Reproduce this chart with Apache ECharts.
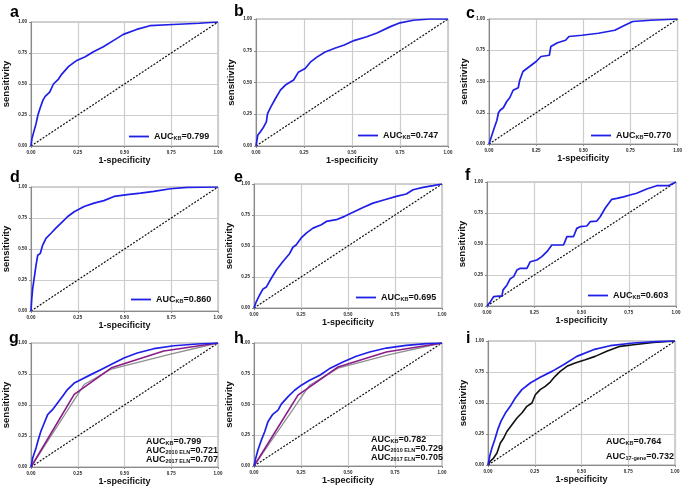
<!DOCTYPE html>
<html><head><meta charset="utf-8">
<script src="https://cdn.jsdelivr.net/npm/echarts@6/dist/echarts.min.js"></script>
<style>html,body{margin:0;padding:0;background:#fff}#c{width:685px;height:489px}</style>
</head><body><div id="c"></div>
<script>
// ---- data (1-specificity, sensitivity) ----
const aX=[0,0.005,0.014,0.027,0.037,0.05,0.064,0.076,0.10,0.12,0.147,0.165,0.20,0.245,0.29,0.334,0.387,0.44,0.494,0.565,0.636,0.76,0.90,1];
const aY=[0,0.06,0.11,0.18,0.25,0.31,0.37,0.40,0.435,0.50,0.54,0.58,0.64,0.69,0.72,0.76,0.80,0.85,0.90,0.94,0.97,0.98,0.99,1];
const bX=[0,0.009,0.022,0.04,0.054,0.06,0.078,0.10,0.127,0.153,0.196,0.22,0.256,0.283,0.317,0.36,0.41,0.46,0.51,0.577,0.63,0.70,0.75,0.82,0.906,1];
const bY=[0,0.084,0.11,0.15,0.19,0.255,0.31,0.37,0.44,0.48,0.52,0.58,0.61,0.66,0.70,0.74,0.77,0.795,0.83,0.86,0.89,0.94,0.97,0.99,1,1];
const cX=[0,0.016,0.028,0.042,0.05,0.059,0.076,0.094,0.11,0.128,0.155,0.163,0.18,0.215,0.25,0.276,0.32,0.328,0.363,0.406,0.424,0.493,0.58,0.667,0.72,0.762,0.858,1];
const cY=[0,0.074,0.13,0.19,0.25,0.27,0.29,0.34,0.37,0.43,0.45,0.51,0.58,0.62,0.66,0.70,0.71,0.78,0.81,0.83,0.86,0.87,0.886,0.91,0.95,0.98,0.99,1];
const dX=[0,0.004,0.009,0.018,0.027,0.036,0.05,0.062,0.08,0.107,0.133,0.169,0.195,0.231,0.284,0.337,0.39,0.444,0.515,0.586,0.657,0.746,0.835,1];
const dY=[0,0.10,0.18,0.276,0.37,0.45,0.465,0.53,0.586,0.627,0.668,0.72,0.76,0.80,0.843,0.87,0.89,0.924,0.938,0.95,0.965,0.986,0.997,1];
const eX=[0,0.012,0.03,0.048,0.066,0.092,0.119,0.154,0.19,0.207,0.225,0.25,0.278,0.314,0.358,0.385,0.438,0.482,0.535,0.58,0.633,0.695,0.757,0.81,0.846,0.899,0.952,1];
const eY=[0,0.05,0.105,0.154,0.17,0.24,0.307,0.375,0.44,0.49,0.51,0.563,0.604,0.644,0.671,0.698,0.712,0.739,0.779,0.811,0.846,0.873,0.90,0.919,0.954,0.973,0.987,1];
const fX=[0,0.018,0.035,0.062,0.079,0.085,0.106,0.123,0.141,0.158,0.176,0.211,0.229,0.264,0.29,0.317,0.343,0.405,0.423,0.458,0.475,0.493,0.528,0.546,0.581,0.599,0.625,0.66,0.687,0.722,0.757,0.792,0.845,0.898,0.96,0.986,1];
const fY=[0,0.035,0.075,0.08,0.08,0.13,0.17,0.22,0.237,0.29,0.304,0.304,0.357,0.371,0.398,0.438,0.492,0.492,0.56,0.56,0.626,0.64,0.645,0.68,0.685,0.72,0.788,0.86,0.868,0.88,0.895,0.909,0.944,0.97,0.97,0.99,1];
const gX=[0,0.009,0.027,0.039,0.053,0.071,0.089,0.115,0.142,0.169,0.195,0.231,0.266,0.32,0.373,0.444,0.497,0.568,0.657,0.764,0.888,1];
const gY=[0,0.073,0.153,0.22,0.288,0.355,0.422,0.462,0.516,0.57,0.624,0.677,0.704,0.745,0.785,0.839,0.879,0.919,0.954,0.978,0.992,1];
const g2010X=[0,0.231,0.43,0.71,1];
const g2010Y=[0,0.585,0.80,0.935,1];
const g2017X=[0,0.284,0.43,0.73,1];
const g2017Y=[0,0.665,0.79,0.905,1];
const hX=[0,0.009,0.021,0.039,0.057,0.074,0.10,0.128,0.145,0.18,0.216,0.252,0.296,0.35,0.40,0.473,0.544,0.615,0.704,0.81,0.917,1];
const hY=[0,0.062,0.13,0.21,0.278,0.36,0.42,0.454,0.503,0.562,0.616,0.657,0.697,0.738,0.79,0.846,0.892,0.927,0.959,0.981,0.995,1];
const h2010X=[0,0.234,0.447,0.704,1];
const h2010Y=[0,0.576,0.805,0.927,1];
const h2017X=[0,0.296,0.447,0.72,1];
const h2017Y=[0,0.657,0.795,0.905,1];
const iX=[0,0.009,0.021,0.036,0.052,0.069,0.093,0.119,0.146,0.181,0.226,0.279,0.342,0.404,0.475,0.564,0.653,0.778,0.92,1];
const iY=[0,0.07,0.137,0.204,0.285,0.352,0.419,0.473,0.54,0.608,0.661,0.707,0.755,0.809,0.876,0.93,0.962,0.984,0.997,1];
const i17X=[0,0.012,0.03,0.048,0.066,0.084,0.101,0.128,0.155,0.181,0.208,0.235,0.253,0.279,0.306,0.333,0.359,0.386,0.422,0.466,0.52,0.573,0.635,0.706,0.778,0.884,1];
const i17Y=[0,0.03,0.056,0.097,0.177,0.218,0.27,0.325,0.379,0.419,0.473,0.50,0.567,0.608,0.634,0.669,0.715,0.755,0.796,0.823,0.849,0.876,0.917,0.957,0.97,0.989,1];
const diagX=[0,1];
const diagY=[0,1];
const panelLetters=['a','b','c','d','e','f','g','h','i'];
const aucKB=['0.799','0.747','0.770','0.860','0.695','0.603','0.799','0.782','0.764'];
const auc2010=['0.721','0.729'];
const auc2017=['0.707','0.705'];
const auc17gene='0.732';

// ---- layout ----
const grids=[
 {left:31,top:22,width:187,height:124},
 {left:256,top:19,width:192,height:127},
 {left:489,top:19,width:192,height:125},
 {left:30,top:187,width:188,height:124},
 {left:254,top:184,width:188,height:124},
 {left:487,top:182,width:189,height:124},
 {left:30,top:343,width:188,height:124},
 {left:254,top:343,width:188,height:123},
 {left:488,top:341,width:187,height:124}
];
const letterPos=[[5,0],[229,-1],[461,1],[5,165],[229,165],[460,163],[4,326],[229,326],[461,326]];
const legendPos=[[129,132],[358,131],[591,131],[131,295],[356,293],[588,291]];
const zip=(xs,ys)=>xs.map((x,k)=>[x,ys[k]]);
const BLUE='#1f1fe8', PURPLE='#8a1c8a', GRAY='#8f8f8f';
const FF='Liberation Sans, Arial, sans-serif';

const option={animation:false,backgroundColor:'#fff',grid:[],xAxis:[],yAxis:[],series:[],legend:[],title:[]};
const rich={
  a:{fontSize:9,fontWeight:'bold',fontFamily:FF,color:'#111',lineHeight:9,verticalAlign:'bottom'},
  s:{fontSize:5.5,fontWeight:'bold',fontFamily:FF,color:'#111',lineHeight:2,verticalAlign:'bottom'}
};
grids.forEach((g,k)=>{
  option.grid.push(Object.assign({show:true,borderColor:'#a0a0a0',borderWidth:1,containLabel:false},g));
  option.xAxis.push({gridIndex:k,type:'value',min:0,max:1,interval:0.25,
    axisLine:{show:true,onZero:false,lineStyle:{color:'#8a8a8a',width:1}},
    axisTick:{show:true,length:2,lineStyle:{color:'#8a8a8a'}},
    axisLabel:{fontSize:4.5,fontWeight:'bold',color:'#222',margin:4,fontFamily:FF,formatter:v=>v.toFixed(2)},
    splitLine:{show:true,lineStyle:{color:'#cdcdcd',width:1.2}},
    name:'1-specificity',nameLocation:'middle',nameGap:9,
    nameTextStyle:{fontSize:9,fontWeight:'bold',color:'#111',fontFamily:FF}});
  option.yAxis.push({gridIndex:k,type:'value',min:0,max:1,interval:0.25,
    axisLine:{show:true,onZero:false,lineStyle:{color:'#8a8a8a',width:1}},
    axisTick:{show:true,length:2,lineStyle:{color:'#8a8a8a'}},
    axisLabel:{fontSize:4.5,fontWeight:'bold',color:'#222',margin:4,fontFamily:FF,formatter:v=>v.toFixed(2)},
    splitLine:{show:true,lineStyle:{color:'#cdcdcd',width:1.2}},
    name:'sensitivity',nameLocation:'middle',nameGap:20,nameRotate:90,
    nameTextStyle:{fontSize:9.5,fontWeight:'bold',color:'#111',fontFamily:FF}});
  option.series.push({type:'line',xAxisIndex:k,yAxisIndex:k,data:zip(diagX,diagY),showSymbol:false,silent:true,
    lineStyle:{color:'#111',width:1.2,type:[2,1.5]},z:2});
  option.title.push({text:panelLetters[k],left:letterPos[k][0],top:letterPos[k][1],
    textStyle:{fontSize:16,fontWeight:'bold',color:'#000',fontFamily:FF}});
});
const blueSets=[[aX,aY],[bX,bY],[cX,cY],[dX,dY],[eX,eY],[fX,fY],[gX,gY],[hX,hY],[iX,iY]];
[[g2017X,g2017Y,6,GRAY],[g2010X,g2010Y,6,PURPLE],[h2017X,h2017Y,7,GRAY],[h2010X,h2010Y,7,PURPLE],[i17X,i17Y,8,'#111']].forEach(s=>{
  option.series.push({type:'line',xAxisIndex:s[2],yAxisIndex:s[2],data:zip(s[0],s[1]),showSymbol:false,
    lineStyle:{color:s[3],width:s[3]===GRAY?1.3:1.6},z:3});
});
blueSets.forEach((s,k)=>{
  option.series.push({name:'KB'+k,type:'line',xAxisIndex:k,yAxisIndex:k,data:zip(s[0],s[1]),showSymbol:false,
    color:BLUE,lineStyle:{color:BLUE,width:1.7},z:4});
});
legendPos.forEach((p,k)=>{
  option.legend.push({data:['KB'+k],left:p[0],top:p[1],icon:'rect',itemWidth:20,itemHeight:1.8,itemGap:0,padding:0,
    selectedMode:false,formatter:()=>'{a|AUC}{s|KB}{a|='+aucKB[k]+'}',textStyle:{rich:rich}});
});
option.title.push({text:'{a|AUC}{s|KB}{a|='+aucKB[6]+'}\n{a|AUC}{s|2010 ELN}{a|='+auc2010[0]+'}\n{a|AUC}{s|2017 ELN}{a|='+auc2017[0]+'}',
  left:146,top:437,padding:0,textStyle:{rich:rich}});
option.title.push({text:'{a|AUC}{s|KB}{a|='+aucKB[7]+'}\n{a|AUC}{s|2010 ELN}{a|='+auc2010[1]+'}\n{a|AUC}{s|2017 ELN}{a|='+auc2017[1]+'}',
  left:371,top:435.5,padding:0,textStyle:{rich:rich}});
option.title.push({text:'{a|AUC}{s|KB}{a|='+aucKB[8]+'}',left:606,top:437.5,padding:0,textStyle:{rich:rich}});
option.title.push({text:'{a|AUC}{s|17-gene}{a|='+auc17gene+'}',left:606,top:452.5,padding:0,textStyle:{rich:rich}});
const chart=echarts.init(document.getElementById('c'),null,{renderer:'canvas'});
chart.setOption(option);
</script></body></html>
